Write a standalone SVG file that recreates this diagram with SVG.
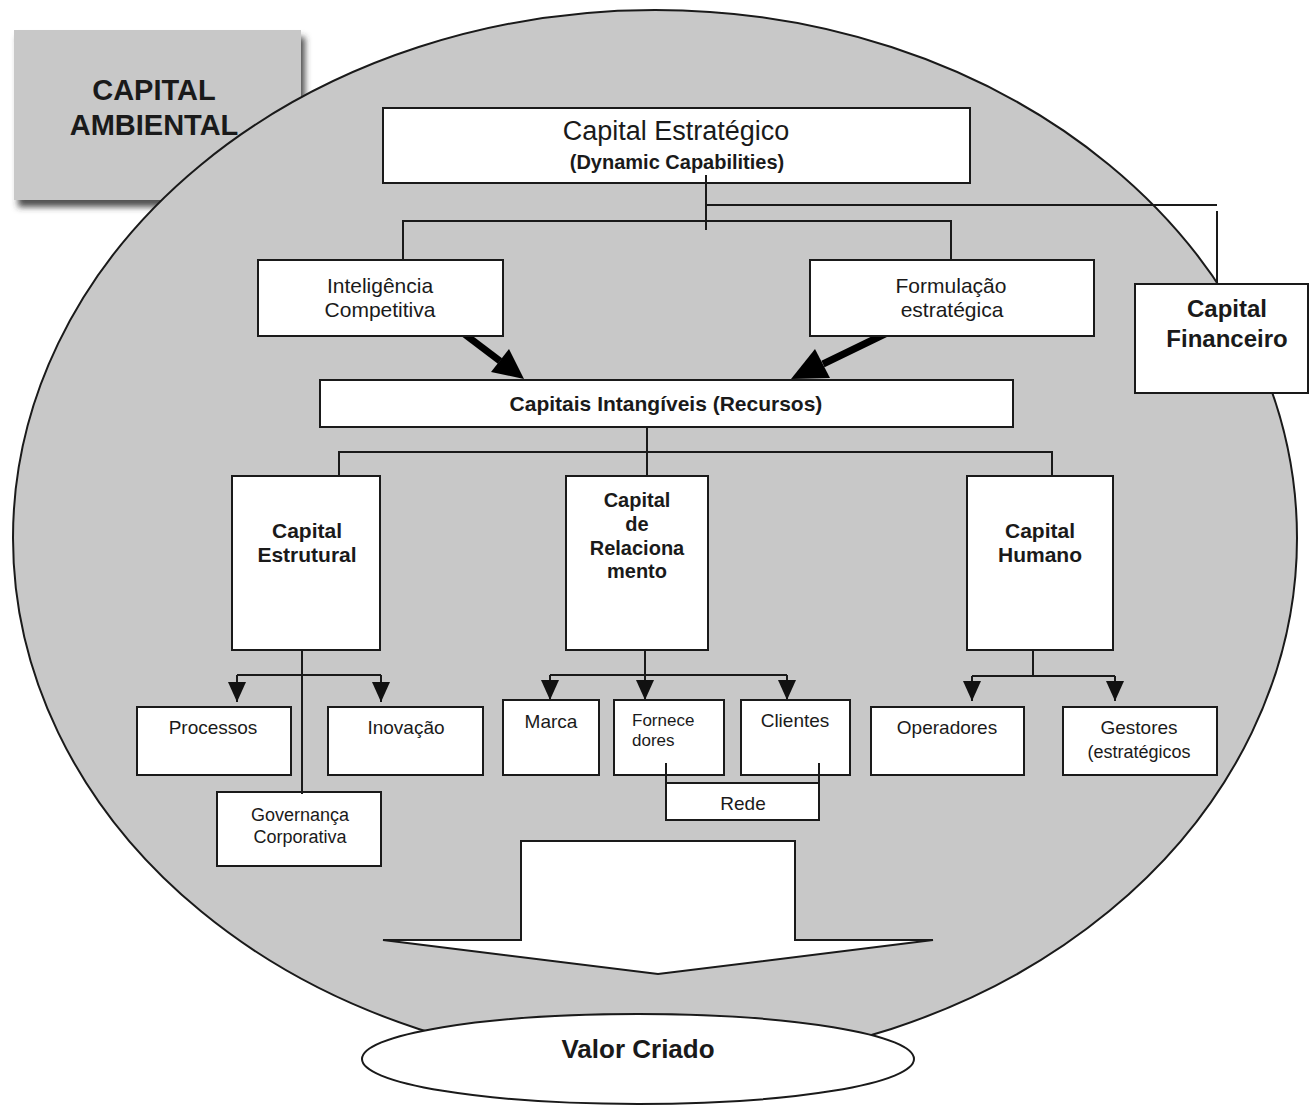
<svg xmlns="http://www.w3.org/2000/svg" width="1309" height="1106" viewBox="0 0 1309 1106">
<defs>
<style>
.box{fill:#fff;stroke:#1a1a1a;stroke-width:2}
.ln{fill:none;stroke:#1a1a1a;stroke-width:2}
.t{font-family:"Liberation Sans",Arial,sans-serif;fill:#1a1a1a;text-anchor:middle}
.b{font-weight:bold}
</style>
<filter id="sh" x="-10%" y="-10%" width="130%" height="140%">
<feDropShadow dx="4" dy="7" stdDeviation="3" flood-color="#333" flood-opacity="0.85"/>
</filter>
<marker id="tri" viewBox="0 0 20 18" markerWidth="20" markerHeight="18" refX="20" refY="9" orient="auto" markerUnits="userSpaceOnUse">
<path d="M0,0 L20,9 L0,18 Z" fill="#111"/>
</marker>
</defs>
<rect width="1309" height="1106" fill="#fff"/>

<g id="capital-ambiental">
<rect x="14" y="30" width="287" height="170" fill="#c8c8c8" filter="url(#sh)"/>
<text class="t b" x="154" y="100" font-size="29">CAPITAL</text>
<text class="t b" x="154" y="135" font-size="29">AMBIENTAL</text>
</g>

<g id="ambiente">
<ellipse cx="655" cy="538" rx="642" ry="528" fill="#c8c8c8" stroke="#1a1a1a" stroke-width="2"/>
</g>

<g id="connectors">
<line class="ln" x1="706" y1="175" x2="706" y2="230"/>
<line class="ln" x1="706" y1="205" x2="1217" y2="205"/>
<line class="ln" x1="1217" y1="211" x2="1217" y2="284"/>
<polyline class="ln" points="403,260 403,221 951,221 951,260"/>
<line class="ln" x1="647" y1="428" x2="647" y2="476"/>
<polyline class="ln" points="339,476 339,452 1052,452 1052,476"/>
<line class="ln" x1="302" y1="650" x2="302" y2="792" stroke-width="2.5"/>
<line class="ln" x1="237" y1="675" x2="381" y2="675"/>
<line class="ln" x1="237" y1="675" x2="237" y2="702" marker-end="url(#tri)"/>
<line class="ln" x1="381" y1="675" x2="381" y2="702" marker-end="url(#tri)"/>
<line class="ln" x1="645" y1="650" x2="645" y2="675"/>
<line class="ln" x1="550" y1="675" x2="787" y2="675"/>
<line class="ln" x1="550" y1="675" x2="550" y2="700" marker-end="url(#tri)"/>
<line class="ln" x1="645" y1="675" x2="645" y2="700" marker-end="url(#tri)"/>
<line class="ln" x1="787" y1="675" x2="787" y2="700" marker-end="url(#tri)"/>
<line class="ln" x1="1033" y1="650" x2="1033" y2="676"/>
<line class="ln" x1="972" y1="676" x2="1115" y2="676"/>
<line class="ln" x1="972" y1="676" x2="972" y2="701" marker-end="url(#tri)"/>
<line class="ln" x1="1115" y1="676" x2="1115" y2="701" marker-end="url(#tri)"/>
<line x1="463" y1="333" x2="500" y2="361" stroke="#000" stroke-width="7"/>
<polygon points="524,379 491,372 509,349" fill="#000"/>
<line x1="889" y1="332" x2="823" y2="364" stroke="#000" stroke-width="7"/>
<polygon points="791,379 830,378 815,349" fill="#000"/>
</g>

<g id="capital-estrategico">
<rect class="box" x="383" y="108" width="587" height="75"/>
<text class="t" x="676" y="140" font-size="27">Capital Estratégico</text>
<text class="t b" x="677" y="169" font-size="20">(Dynamic Capabilities)</text>
</g>
<line class="ln" x1="706" y1="175" x2="706" y2="183"/>

<g id="inteligencia">
<rect class="box" x="258" y="260" width="245" height="76"/>
<text class="t" x="380" y="293" font-size="21">Inteligência</text>
<text class="t" x="380" y="317" font-size="21">Competitiva</text>
</g>

<g id="formulacao">
<rect class="box" x="810" y="260" width="284" height="76"/>
<text class="t" x="951" y="293" font-size="21">Formulação</text>
<text class="t" x="952" y="317" font-size="21">estratégica</text>
</g>

<g id="capital-financeiro">
<rect class="box" x="1135" y="284" width="173" height="109"/>
<text class="t b" x="1227" y="317" font-size="24">Capital</text>
<text class="t b" x="1227" y="347" font-size="24">Financeiro</text>
</g>

<g id="capitais-intangiveis">
<rect class="box" x="320" y="380" width="693" height="47"/>
<text class="t b" x="666" y="411" font-size="21">Capitais Intangíveis (Recursos)</text>
</g>

<g id="capital-estrutural">
<rect class="box" x="232" y="476" width="148" height="174"/>
<text class="t b" x="307" y="538" font-size="21">Capital</text>
<text class="t b" x="307" y="562" font-size="21">Estrutural</text>
</g>

<g id="capital-relacionamento">
<rect class="box" x="566" y="476" width="142" height="174"/>
<text class="t b" x="637" y="507" font-size="20">Capital</text>
<text class="t b" x="637" y="531" font-size="20">de</text>
<text class="t b" x="637" y="555" font-size="20">Relaciona</text>
<text class="t b" x="637" y="578" font-size="20">mento</text>
</g>

<g id="capital-humano">
<rect class="box" x="967" y="476" width="146" height="174"/>
<text class="t b" x="1040" y="538" font-size="21">Capital</text>
<text class="t b" x="1040" y="562" font-size="21">Humano</text>
</g>

<g id="processos">
<rect class="box" x="137" y="707" width="154" height="68"/>
<text class="t" x="213" y="734" font-size="19">Processos</text>
</g>

<g id="inovacao">
<rect class="box" x="328" y="707" width="155" height="68"/>
<text class="t" x="406" y="734" font-size="19">Inovação</text>
</g>

<g id="governanca">
<rect class="box" x="217" y="792" width="164" height="74"/>
<text class="t" x="300" y="821" font-size="18">Governança</text>
<text class="t" x="300" y="843" font-size="18">Corporativa</text>
</g>
<line class="ln" x1="302" y1="792" x2="302" y2="794"/>

<g id="marca">
<rect class="box" x="503" y="700" width="96" height="75"/>
<text class="t" x="551" y="728" font-size="19">Marca</text>
</g>

<g id="fornecedores">
<rect class="box" x="614" y="700" width="110" height="75"/>
<text class="t" x="632" y="726" font-size="17" text-anchor="start" style="text-anchor:start">Fornece</text>
<text class="t" x="632" y="746" font-size="17" style="text-anchor:start">dores</text>
</g>

<g id="clientes">
<rect class="box" x="741" y="700" width="109" height="75"/>
<text class="t" x="795" y="727" font-size="19">Clientes</text>
</g>

<g id="rede">
<line class="ln" x1="666" y1="763" x2="666" y2="783"/>
<line class="ln" x1="819" y1="763" x2="819" y2="783"/>
<rect class="box" x="666" y="783" width="153" height="37"/>
<text class="t" x="743" y="810" font-size="19">Rede</text>
</g>

<g id="operadores">
<rect class="box" x="871" y="707" width="153" height="68"/>
<text class="t" x="947" y="734" font-size="19">Operadores</text>
</g>

<g id="gestores">
<rect class="box" x="1063" y="707" width="154" height="68"/>
<text class="t" x="1139" y="734" font-size="19">Gestores</text>
<text class="t" x="1139" y="758" font-size="18">(estratégicos</text>
</g>

<g id="seta-valor">
<polygon points="521,841 795,841 795,940 933,940 658,974 383,940 521,940" fill="#fff" stroke="#1a1a1a" stroke-width="2" stroke-linejoin="miter"/>
</g>

<g id="valor-criado">
<ellipse cx="638" cy="1059" rx="276" ry="45" fill="#fff" stroke="#1a1a1a" stroke-width="2"/>
<text class="t b" x="638" y="1058" font-size="26">Valor Criado</text>
</g>
</svg>
